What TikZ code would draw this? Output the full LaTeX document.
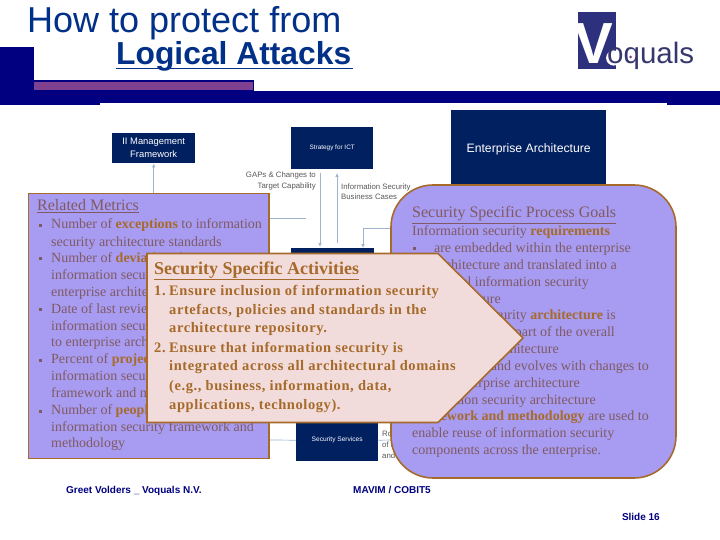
\documentclass[tikz,border=0pt]{standalone}
\usepackage{fontspec}
\setmainfont{Liberation Serif}
\setsansfont{Liberation Sans}
\newfontfamily\actfont[LetterSpace=4]{Liberation Serif}
\usetikzlibrary{arrows.meta}
\definecolor{navy}{HTML}{000080}
\definecolor{deep}{HTML}{002060}
\definecolor{bronze}{HTML}{A66A2A}
\definecolor{mutedtxt}{HTML}{7F5A62}
\definecolor{lav}{HTML}{A89CF2}
\definecolor{pinkbox}{HTML}{F2DCDB}
\definecolor{titleblue}{HTML}{003087}
\definecolor{link}{HTML}{9DB4CC}
\definecolor{purplestrip}{HTML}{804090}
\definecolor{logoblue}{HTML}{2D317D}
\definecolor{logotxt}{HTML}{37376F}
\newcommand{\bz}[1]{\textcolor{bronze}{\textbf{#1}}}
\tikzset{
  x=1pt,y=-1pt,
  bar/.style={fill=navy,draw=none},
  dbox/.style={fill=deep,draw=none,text=white,font=\sffamily\fontsize{9.4}{13}\selectfont,align=center,inner sep=0pt},
  sm/.style={font=\sffamily\fontsize{7.8}{10.5}\selectfont,text=black!65,inner sep=0pt},
  panel/.style={fill=lav,draw=bronze,line width=1.6pt},
  ltxt/.style={anchor=base west,inner sep=0pt,text=mutedtxt,font=\rmfamily\fontsize{14}{16}\selectfont},
  rtxt/.style={anchor=base east,inner sep=0pt,text=mutedtxt,font=\rmfamily\fontsize{14}{16}\selectfont},
  htxt/.style={anchor=base west,inner sep=0pt,text=mutedtxt,font=\rmfamily\fontsize{16}{18}\selectfont},
  atxt/.style={anchor=base west,inner sep=0pt,text=bronze,font=\actfont\bfseries\fontsize{14.5}{18}\selectfont},
  foot/.style={inner sep=0pt,text=navy,font=\sffamily\bfseries\fontsize{10}{12}\selectfont},
  conn/.style={draw=link,line width=0.7pt},
  tip/.style={-{Latex[length=4pt,width=3.5pt]}}
}
\begin{document}
\begin{tikzpicture}
\useasboundingbox (0,0) rectangle (720,540);
\fill[white] (0,0) rectangle (720,540);
% header bars
\fill[bar] (0,47) rectangle (33.5,105);
\fill[bar] (33,91) rectangle (720,103.5);
\fill[bar] (33,103) rectangle (100,105);
\fill[bar] (667,103) rectangle (720,105);
\fill[bar] (33,80) rectangle (254,91);
\fill[purplestrip] (34,82) rectangle (253,90);
% title
\node[name=t1,anchor=base west,inner sep=0pt,text=titleblue,font=\sffamily\fontsize{36}{40}\selectfont] at (27,33) {How to protect from};
\node[name=t2,anchor=base west,inner sep=0pt,text=titleblue,font=\sffamily\bfseries\fontsize{31.8}{36}\selectfont] at (116,65) {Logical Attacks};
\draw[titleblue,line width=1.6pt] (116,68.5) -- (353,68.5);
% logo
\fill[logoblue] (578,12) rectangle (616,69);
\begin{scope}
\clip (578,12) rectangle (616,69);
\node[name=vv,anchor=base,inner sep=0pt,text=white,font=\sffamily\bfseries\fontsize{58}{60}\selectfont] at (594,64) {V};
\end{scope}
\fill[white] (613.7,58) circle (7.6);
\node[name=oq,anchor=base west,inner sep=0pt,text=logotxt,font=\sffamily\fontsize{29.5}{34}\selectfont] at (607,64) {oquals};
\fill[purplestrip] (630.5,57) circle (1.5);
% background chart
\node[dbox,name=itm,minimum width=83pt,minimum height=30pt,anchor=north west] at (112,133) {II Management\\Framework};
\node[dbox,name=strat,minimum width=82pt,minimum height=42pt,anchor=north west,font=\sffamily\fontsize{6.4}{8}\selectfont] at (291,127) {Strategy for ICT};
\node[dbox,name=ea,minimum width=155pt,minimum height=78pt,anchor=north west,font=\sffamily\fontsize{12.2}{14}\selectfont] at (451,110) {Enterprise Architecture};
\node[dbox,name=mid,minimum width=83pt,minimum height=20pt,anchor=north west] at (291,248) {};
\node[dbox,name=svc,minimum width=82pt,minimum height=42pt,anchor=north west,font=\sffamily\fontsize{6.6}{8}\selectfont] at (296,419) {Security Services};
\coordinate (itmdown) at (itm.south |- 0,193);
\draw[conn,tip] (itmdown) -- (itm.south);
\coordinate (g1) at (320,173);
\coordinate (g2) at (320,247);
\draw[conn,tip] (g1) -- (g2);
\coordinate (g3) at (337,243);
\coordinate (g4) at (337,173);
\draw[conn,tip] (g3) -- (g4);
\coordinate (lk1) at (270,218);
\coordinate (lk2) at (306,218);
\draw[conn] (lk1) -- (lk2);
\coordinate (lk3) at (392,228);
\coordinate (lk4) at (363,228);
\draw[conn,tip] (lk3) -- (lk4) -- (mid.north -| lk4);
\coordinate (lk5) at (270,440);
\draw[conn] (lk5) -- (svc.west);
\coordinate (lk6) at (395,440);
\draw[conn] (svc.east) -- (lk6);
\node[sm,align=right,anchor=north east] (gaps) at (316,172) {GAPs \& Changes to\\Target Capability};
\node[sm,align=left,anchor=north west] (isbn) at (341,183.5) {Information Security\\Business Cases};
\node[sm,align=left,anchor=north west,font=\sffamily\fontsize{7.8}{11}\selectfont] (ro) at (382,431) {Ro\\of t\\and};
% left panel
\draw[panel] (28.5,193.5) rectangle (269,458.5);
\node[htxt] (m0) at (37,211) {\underline{Related Metrics}};
\foreach \yy in {224,257,308,359,410}{\fill[mutedtxt] (39,\yy) rectangle ++(2.6,2.6);}
\node[ltxt] (m1) at (51,229) {Number of \bz{exceptions} to information};
\node[ltxt] (m2) at (51,246) {security architecture standards};
\node[ltxt] (m3) at (51,262) {Number of \bz{deviations} between};
\node[ltxt] (m4) at (51,279) {information security architecture and};
\node[ltxt] (m5) at (51,296) {enterprise architecture};
\node[ltxt] (m6) at (51,313) {Date of last review of};
\node[ltxt] (m7) at (51,330) {information security architecture};
\node[ltxt] (m8) at (51,346) {to enterprise architecture};
\node[ltxt] (m9) at (51,363) {Percent of \bz{projects} using};
\node[ltxt] (m10) at (51,380) {information security architecture};
\node[ltxt] (m11) at (51,397) {framework and methodology};
\node[ltxt] (m12) at (51,414) {Number of \bz{people} trained in};
\node[ltxt] (m13) at (51,431) {information security framework and};
\node[ltxt] (m14) at (51,447) {methodology};
% right panel
\draw[panel,rounded corners=42pt] (391,185) rectangle (676,478);
\node[htxt] (g0) at (412,218) {\underline{Security Specific Process Goals}};
\node[ltxt] (r1) at (412,236) {Information security \bz{requirements}};
\fill[mutedtxt] (413,247) rectangle ++(2.6,2.6);
\node[rtxt] (r2) at (631,252) {are embedded within the enterprise};
\node[rtxt] (r3) at (617,269) {architecture and translated into a};
\node[rtxt] (r4) at (589,286) {formal information security};
\node[rtxt] (r5) at (501,303) {architecture};
\node[rtxt] (r6) at (616,319) {Information security \bz{architecture} is};
\node[rtxt] (r7) at (615,336) {understood as part of the overall};
\node[rtxt] (r8) at (559,353) {enterprise architecture};
\node[rtxt] (r9) at (649,370) {is aligned and evolves with changes to};
\node[rtxt] (r10) at (580,387) {the enterprise architecture};
\node[rtxt] (r11) at (596,404) {Information security architecture};
\node[rtxt] (r12) at (649,420) {\bz{framework and methodology} are used to};
\node[ltxt] (r13) at (412,437) {enable reuse of information security};
\node[ltxt] (r14) at (412,454) {components across the enterprise.};
% activities pentagon
\draw[fill=pinkbox,draw=bronze,line width=1.6pt] (147,253.5) -- (438,253.5) -- (523,338) -- (438,422.5) -- (147,422.5) -- cycle;
\node[atxt,font=\rmfamily\bfseries\fontsize{18}{20}\selectfont] (a0) at (154,274) {\underline{Security Specific Activities}};
\node[atxt] (n1) at (154,295) {1.};
\node[atxt] (a1) at (169,295) {Ensure inclusion of information security};
\node[atxt] (a2) at (169,314) {artefacts, policies and standards in the};
\node[atxt] (a3) at (169,332) {architecture repository.};
\node[atxt] (n2) at (154,352) {2.};
\node[atxt] (a4) at (169,352) {Ensure that information security is};
\node[atxt] (a5) at (169,370) {integrated across all architectural domains};
\node[atxt] (a6) at (169,390) {(e.g., business, information, data,};
\node[atxt] (a7) at (169,409) {applications, technology).};
% footer
\node[foot,anchor=base west] (f1) at (66,493) {Greet Volders \_ Voquals N.V.};
\node[foot,anchor=base west] (f2) at (353,493) {MAVIM / COBIT5};
\node[foot,anchor=base east] (f3) at (660,520) {Slide 16};
\end{tikzpicture}
\end{document}
